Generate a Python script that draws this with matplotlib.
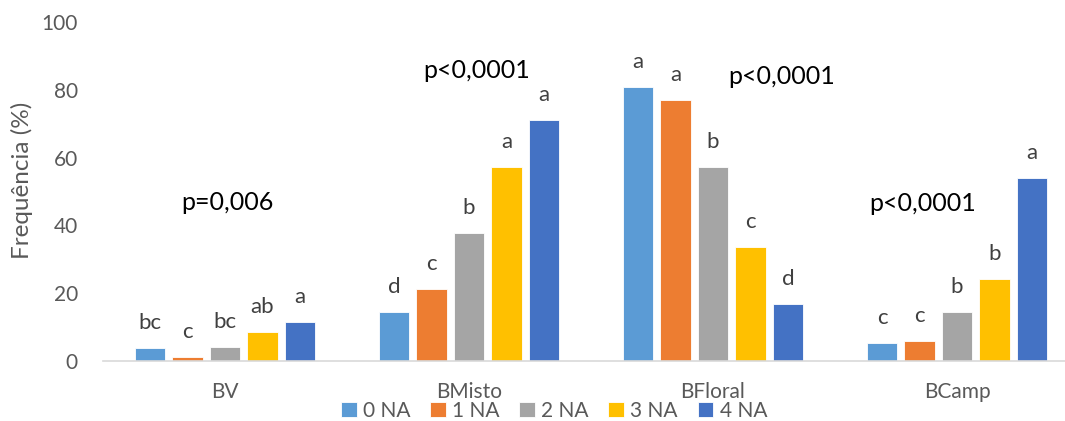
import numpy as np
import matplotlib
matplotlib.use("Agg")
import matplotlib.pyplot as plt

plt.rcParams["font.family"] = ["Lato", "DejaVu Sans"]

grupos = ["BV", "BMisto", "BFloral", "BCamp"]
series = ["0 NA", "1 NA", "2 NA", "3 NA", "4 NA"]
cores = ["#5B9BD5", "#ED7D31", "#A5A5A5", "#FFC000", "#4472C4"]

# frequência (%) por grupo, uma lista por classe de NA
freq_0na = [3.9, 14.6, 80.9, 5.4]
freq_1na = [1.2, 21.2, 76.9, 5.9]
freq_2na = [4.2, 37.9, 57.3, 14.5]
freq_3na = [8.6, 57.3, 33.6, 24.3]
freq_4na = [11.5, 71.1, 16.8, 54.0]
valores = [freq_0na, freq_1na, freq_2na, freq_3na, freq_4na]

# letras do teste de comparação (por grupo)
letras = [
    ["bc", "c", "bc", "ab", "a"],
    ["d", "c", "b", "a", "a"],
    ["a", "a", "b", "c", "d"],
    ["c", "c", "b", "b", "a"],
]

p_textos = ["p=0,006", "p<0,0001", "p<0,0001", "p<0,0001"]
p_pos = [(0.01, 46.9), (1.03, 85.8), (2.28, 83.9), (2.86, 46.6)]

fig = plt.figure(figsize=(10.65, 4.21), dpi=100)
ax = fig.add_axes([103 / 1065, 60 / 421, 976 / 1065, 339 / 421])

x = np.arange(len(grupos))
passo = 0.1537
largura = 0.123

for i, (nome, cor, vals) in enumerate(zip(series, cores, valores)):
    pos = x + (i - 2) * passo
    ax.bar(pos, vals, width=largura, color=cor, label=nome,
           edgecolor="white", linewidth=0.6)
    for g, (px, v) in enumerate(zip(pos, vals)):
        ax.annotate(letras[g][i], (px, v), xytext=(0, 18),
                    textcoords="offset points", ha="center", va="center",
                    fontsize=16, color="#404040")

for txt, (tx, ty) in zip(p_textos, p_pos):
    ax.text(tx, ty, txt, ha="center", va="center", fontsize=18, color="black")

ax.set_xlim(-0.5, len(grupos) - 0.5)
ax.set_ylim(0, 100)
ax.set_yticks(range(0, 101, 20))
ax.set_xticks(x)
ax.set_xticklabels(grupos)
ax.tick_params(axis="both", length=0, labelsize=15, labelcolor="#595959")
ax.tick_params(axis="y", pad=18)
ax.tick_params(axis="x", pad=15)

for lado in ["top", "right", "left"]:
    ax.spines[lado].set_visible(False)
ax.spines["bottom"].set_color("#D9D9D9")
ax.spines["bottom"].set_linewidth(1.2)

fig.text(22 / 1065, 1 - 180 / 421, "Frequência (%)", rotation=90,
         ha="center", va="center", fontsize=17.5, color="#595959")

fig.legend(loc="center", bbox_to_anchor=(554 / 1065, 1 - 411 / 421), ncol=5,
           frameon=False, fontsize=15, handlelength=0.75, handleheight=0.75,
           handletextpad=0.3, columnspacing=0.95, labelcolor="#595959")

fig.savefig("out.png", dpi=100)
